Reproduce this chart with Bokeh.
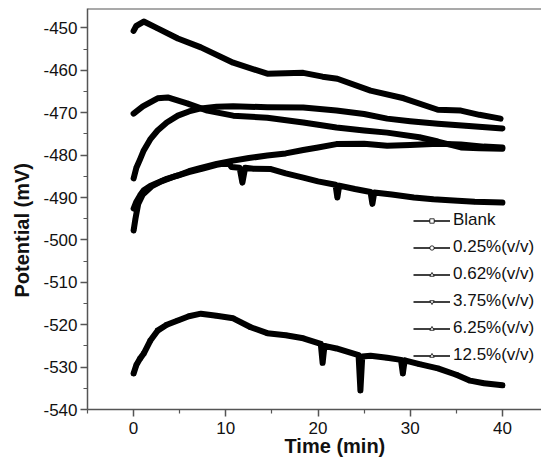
from bokeh.plotting import figure
from bokeh.models import (Range1d, FixedTicker, Span, Legend, LegendItem, Title)
from bokeh.embed import file_html
from bokeh.resources import INLINE
import math

# ---- data ----
t_125 = [0, 0.3, 1.1, 2.5, 4.8, 7.3, 10.8, 14.5, 18.4, 20.5, 22.1, 25.7, 29.3, 33, 35.5, 37.5, 39.8]
y_125 = [-450.7, -449.5, -448.5, -450, -452.5, -454.6, -458.2, -460.8, -460.6, -461.5, -462, -464.8, -466.6, -469.3, -469.5, -470.5, -471.4]

t_625 = [0, 1, 2.6, 3.7, 5.8, 8, 10.8, 14.5, 18.4, 22, 25, 27.5, 31, 33, 35.5, 37.5, 40]
y_625 = [-470.2, -468.5, -466.6, -466.4, -467.8, -469.5, -470.7, -471.2, -472.3, -473.5, -474.2, -474.7, -475.8, -476.8, -478.2, -478.4, -478.5]

t_375 = [0, 0.3, 0.7, 1.1, 1.8, 2.6, 3.6, 4.8, 6, 7.3, 9, 10.8, 14.5, 18.4, 22, 25, 27.5, 30, 33, 36, 40]
y_375 = [-485.5, -483, -481, -478.9, -476.3, -474.2, -472.3, -470.7, -469.7, -469, -468.6, -468.5, -468.7, -468.8, -469.5, -470.3, -471.4, -472, -472.6, -473.1, -473.7]

t_062 = [0, 0.3, 0.7, 1.1, 1.8, 2.6, 3.6, 4.8, 6, 7.3, 9, 10.8, 12.5, 14.5, 16.5, 18.4, 20, 22, 25, 27.5, 30, 33, 35.5, 38, 40]
y_062 = [-492.6, -491, -489.5, -488.3, -487.3, -486.5, -485.6, -484.8, -483.8, -483, -482.1, -481.3, -480.7, -480.1, -479.6, -478.8, -478.2, -477.4, -477.3, -477.8, -477.6, -477.3, -477.5, -478, -478.2]

t_025 = [0, 0.2, 0.5, 1, 2, 3, 4.5, 6, 7.5, 9, 10.3, 10.6, 11.5, 11.8, 12.1, 13, 14.9, 16.5, 18.4, 20, 21.9, 22.1, 22.3, 24, 25.7, 25.9, 26.1, 28, 30.4, 32.5, 34.7, 37, 40]
y_025 = [-497.8, -495, -491.5, -489.3, -487.3, -486.2, -485, -484, -483.2, -482.3, -481.8, -482.8, -483, -486.5, -483, -483.2, -483.3, -484.3, -485.3, -486.2, -487, -490, -487.2, -488, -488.7, -491.5, -488.8, -489.3, -490, -490.4, -490.7, -491, -491.2]

t_blank = [0, 0.3, 0.7, 1.1, 1.8, 2.6, 3.6, 4.8, 6, 7.3, 9, 10.8, 12.7, 14.5, 16.5, 18.4, 20.3, 20.5, 20.7, 22, 24.4, 24.6, 24.8, 25.7, 27.5, 29, 29.2, 29.4, 31, 33, 35, 36.5, 38, 40]
y_blank = [-531.5, -529.5, -528, -526.8, -523.8, -521.4, -520, -519, -518, -517.4, -517.9, -518.5, -520.6, -522, -522.5, -523.2, -524.5, -529, -525, -525.6, -527.2, -535.5, -527.5, -527.3, -527.8, -528.3, -531.5, -528.4, -529.3, -530.3, -531.8, -533.2, -533.8, -534.3]

labels = ["Blank", "0.25%(v/v)", "0.62%(v/v)", "3.75%(v/v)", "6.25%(v/v)", "12.5%(v/v)"]
series_t = [t_blank, t_025, t_062, t_375, t_625, t_125]
series_y = [y_blank, y_025, y_062, y_375, y_625, y_125]
markers = ["square", "circle", "triangle", "inverted_triangle", "triangle", "triangle"]
angles = [0, 0, 0, 0, math.pi / 2, -math.pi / 2]

x_ticks = [0, 10, 20, 30, 40]
x_minor = [-5, 5, 15, 25, 35]
y_ticks = [-540, -530, -520, -510, -500, -490, -480, -470, -460, -450]
y_minor = [-545, -535, -525, -515, -505, -495, -485, -475, -465, -455, -445]

FONT = "Liberation Sans"
AX = "#555555"

y_end = -540 + 401 / 4.24
p = figure(output_backend="svg", toolbar_location=None,
           frame_width=454, frame_height=401,
           x_range=Range1d(-5, -5 + 454 / 9.22), y_range=Range1d(-540, y_end),
           min_border_left=87, min_border_right=0, min_border_top=8, min_border_bottom=54)
p.outline_line_color = None
p.grid.visible = False
p.background_fill_color = "white"

items = []
for t, y, lab, m, a in zip(series_t, series_y, labels, markers, angles):
    lr = p.line(t, y, line_color="black", line_width=1.3)
    sr = p.scatter(t, y, marker=m, angle=a, size=4, fill_color="white",
                   line_color="black", line_width=0.8)
    items.append(LegendItem(label=lab, renderers=[lr, sr]))

for t, y in zip(series_t, series_y):
    p.line(t, y, line_color="black", line_width=6, line_join="round", line_cap="round")

leg = Legend(items=items, location=(326, 44), border_line_color=None,
             background_fill_alpha=0, padding=0, margin=0, spacing=7,
             glyph_width=37, glyph_height=11, label_height=20, label_standoff=3,
             label_text_font=FONT, label_text_font_size="17px", label_text_color="#111111")
p.add_layout(leg)

for ax, ticks, minor, so in ((p.xaxis[0], x_ticks, x_minor, 5), (p.yaxis[0], y_ticks, y_minor, 3)):
    ax.ticker = FixedTicker(ticks=ticks, minor_ticks=minor)
    ax.axis_line_color = AX
    ax.axis_line_width = 1.5
    ax.major_tick_line_color = AX
    ax.minor_tick_line_color = AX
    ax.major_tick_line_width = 1.5
    ax.minor_tick_line_width = 1.2
    ax.major_tick_out = 7
    ax.major_tick_in = 0
    ax.minor_tick_out = 4
    ax.minor_tick_in = 0
    ax.major_label_text_font = FONT
    ax.major_label_text_font_size = "17px"
    ax.major_label_text_color = "#111111"
    ax.major_label_standoff = so
    ax.major_label_overrides = {v: str(v) for v in ticks}

p.add_layout(Span(location=y_end, dimension="width", line_color=AX, line_width=2))

p.add_layout(Title(text="Potential (mV)", align="left", offset=112, standoff=16, text_font=FONT,
                   text_font_size="20px", text_font_style="bold", text_color="#111111"), "left")
p.add_layout(Title(text="Time (min)", align="left", offset=197, standoff=-7, text_font=FONT,
                   text_font_size="20px", text_font_style="bold", text_color="#111111"), "below")

open("out.html", "w").write(file_html(p, INLINE))
